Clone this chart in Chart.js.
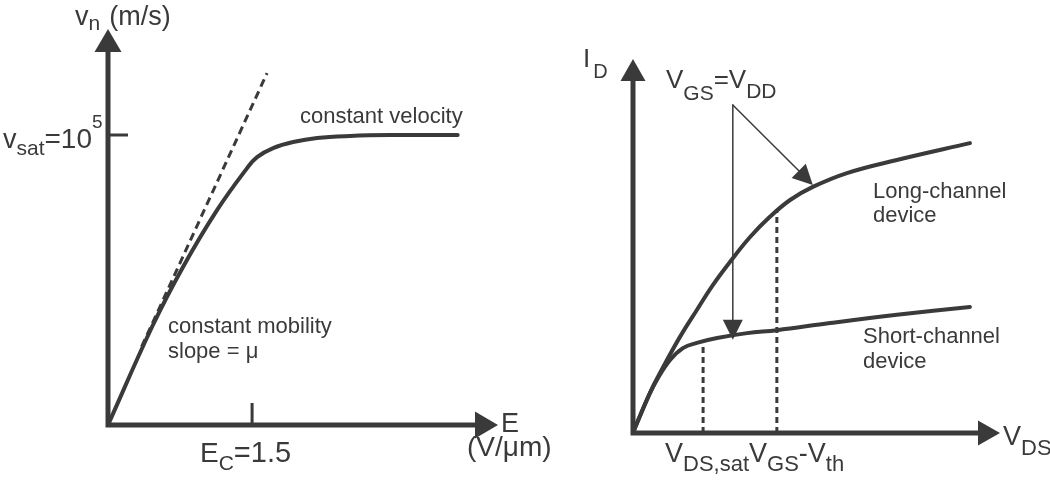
<!DOCTYPE html>
<html>
<head>
<meta charset="utf-8">
<script src="https://cdn.jsdelivr.net/npm/chart.js@4.4.0/dist/chart.umd.min.js"></script>
<style>
  body { margin: 0; background: #fff; }
  #wrap { position: relative; width: 1050px; height: 484px; }
  canvas { position: absolute; left: 0; top: 0; }
</style>
</head>
<body>
<div id="wrap">
  <canvas id="velChart" width="1050" height="484"></canvas>
  <canvas id="idChart" width="1050" height="484"></canvas>
</div>
<script>
// left panel: carrier velocity vs field (v in 1e5 m/s, E in V/um)
var eField   = [0, 0.458, 0.781, 1.135, 1.448, 1.552, 1.719, 1.927, 2.177, 2.52, 2.94, 3.64];
var velocity = [0, 0.338, 0.545, 0.741, 0.886, 0.924, 0.955, 0.976, 0.990, 0.997, 1.0, 1.0];
var mobilityE = [0.35, 1.656];
var mobilityV = [0.27, 1.214];
var eCrit = 1.5;
var vSat = 1;

// right panel: I_D vs V_DS (arbitrary units)
var vdsLong  = [0, 0.11, 0.46, 0.82, 1.28, 1.74, 2.18, 2.64, 3.19, 3.73, 4.28, 4.90, 5.83, 7.19, 9.18];
var idLong   = [0, 0.27, 1.07, 1.76, 2.57, 3.29, 3.96, 4.57, 5.24, 5.78, 6.23, 6.58, 6.95, 7.30, 7.75];
var vdsShort = [0, 0.11, 0.46, 0.65, 1.01, 1.36, 1.74, 2.29, 3.11, 3.92, 5.37, 7.19, 9.18];
var idShort  = [0, 0.27, 1.06, 1.42, 1.95, 2.27, 2.41, 2.54, 2.67, 2.75, 2.94, 3.16, 3.37];
var vdsSat = 1.91, idAtSat = 2.30;
var vgsMinusVth = 3.92, idAtVgs = 5.96;
var arrowFrom = [2.72, 8.77];
var arrowToShort = [2.72, 2.49];
var arrowToLong = [4.90, 6.63];

var INK = '#3a3a3a';
var FONT = '"Liberation Sans", Arial, sans-serif';

function pts(xs, ys) {
  return xs.map(function (x, i) { return {x: x, y: ys[i]}; });
}

// draws text pieces one after another: [text, size, baselineShift, gapBefore]
function rich(ctx, x, y, parts) {
  parts.forEach(function (p) {
    x += p[3] || 0;
    ctx.font = p[1] + 'px ' + FONT;
    ctx.fillText(p[0], x, y + (p[2] || 0));
    x += ctx.measureText(p[0]).width;
  });
}

function tri(ctx, a, b, c) {
  ctx.beginPath();
  ctx.moveTo(a[0], a[1]); ctx.lineTo(b[0], b[1]); ctx.lineTo(c[0], c[1]);
  ctx.closePath();
  ctx.fill();
}

function axes(ctx, area, head, halfW, lw) {
  ctx.save();
  ctx.strokeStyle = INK; ctx.fillStyle = INK;
  ctx.lineWidth = lw; ctx.lineCap = 'butt';
  ctx.beginPath();
  ctx.moveTo(area.left, area.top + head);
  ctx.lineTo(area.left, area.bottom + lw / 2);
  ctx.moveTo(area.left - lw / 2, area.bottom);
  ctx.lineTo(area.right - head, area.bottom);
  ctx.stroke();
  tri(ctx, [area.left, area.top], [area.left - halfW, area.top + head], [area.left + halfW, area.top + head]);
  tri(ctx, [area.right, area.bottom], [area.right - head, area.bottom - halfW], [area.right - head, area.bottom + halfW]);
  ctx.restore();
}

function lineOpts(extra) {
  var o = {
    showLine: true, pointRadius: 0, borderColor: INK, borderWidth: 4,
    tension: 0.4, fill: false, borderCapStyle: 'round'
  };
  for (var k in extra) o[k] = extra[k];
  return o;
}

var baseOpts = function (pad, xmax, ymax) {
  return {
    responsive: false,
    animation: false,
    layout: {padding: pad},
    plugins: {legend: {display: false}, tooltip: {enabled: false}},
    scales: {
      x: {type: 'linear', display: false, min: 0, max: xmax},
      y: {type: 'linear', display: false, min: 0, max: ymax}
    }
  };
};

var velPlugin = {
  id: 'velDecor',
  beforeDatasetsDraw: function (chart) {
    var ctx = chart.ctx, a = chart.chartArea;
    var xs = chart.scales.x, ys = chart.scales.y;
    axes(ctx, a, 23, 13.5, 5);
    ctx.save();
    ctx.strokeStyle = INK; ctx.lineWidth = 3;
    ctx.beginPath();
    var ex = xs.getPixelForValue(eCrit);
    ctx.moveTo(ex, a.bottom); ctx.lineTo(ex, a.bottom - 22);
    var vy = ys.getPixelForValue(vSat);
    ctx.moveTo(a.left, vy); ctx.lineTo(a.left + 20, vy);
    ctx.stroke();
    ctx.restore();
  },
  afterDatasetsDraw: function (chart) {
    var ctx = chart.ctx;
    ctx.save();
    ctx.fillStyle = INK; ctx.textBaseline = 'alphabetic';
    rich(ctx, 75, 25, [['v', 27], ['n', 21, 5], ['(m/s)', 27, 0, 9]]);
    rich(ctx, 3, 148, [['v', 27], ['sat', 21, 7], ['=10', 28], ['5', 19, -20]]);
    rich(ctx, 200, 462, [['E', 28], ['C', 21, 8], ['=1.5', 29]]);
    rich(ctx, 501, 432, [['E', 27]]);
    rich(ctx, 467, 456, [['(V/\u03bcm)', 28]]);
    rich(ctx, 300, 123, [['constant velocity', 22]]);
    rich(ctx, 168, 333, [['constant mobility', 22]]);
    rich(ctx, 168, 358, [['slope = \u03bc', 22]]);
    ctx.restore();
  }
};

new Chart('velChart', {
  type: 'scatter',
  data: {
    datasets: [
      lineOpts({data: pts(eField, velocity)}),
      lineOpts({data: pts(mobilityE, mobilityV), borderWidth: 3, borderDash: [8, 5], tension: 0, borderCapStyle: 'butt'})
    ]
  },
  options: baseOpts({left: 108, right: 552, top: 29, bottom: 59}, 4.06, 1.366),
  plugins: [velPlugin]
});

var idPlugin = {
  id: 'idDecor',
  beforeDatasetsDraw: function (chart) {
    axes(chart.ctx, chart.chartArea, 22, 12.5, 5);
  },
  afterDatasetsDraw: function (chart) {
    var ctx = chart.ctx;
    var xs = chart.scales.x, ys = chart.scales.y;
    function P(p) { return [xs.getPixelForValue(p[0]), ys.getPixelForValue(p[1])]; }
    ctx.save();
    ctx.fillStyle = INK; ctx.strokeStyle = INK;
    // arrow heads for V_GS = V_DD pointers
    var o = P(arrowFrom);
    [arrowToShort, arrowToLong].forEach(function (t) {
      var tp = P(t);
      var ang = Math.atan2(tp[1] - o[1], tp[0] - o[0]);
      var L = 20, W = 10;
      var bx = tp[0] - L * Math.cos(ang), by = tp[1] - L * Math.sin(ang);
      tri(ctx, tp, [bx - W * Math.sin(ang), by + W * Math.cos(ang)], [bx + W * Math.sin(ang), by - W * Math.cos(ang)]);
    });
    ctx.textBaseline = 'alphabetic';
    rich(ctx, 583, 67, [['I', 26], ['D', 20, 11, 3]]);
    rich(ctx, 666, 88, [['V', 26], ['GS', 21, 12], ['=V', 26], ['DD', 21, 10]]);
    rich(ctx, 873, 198, [['Long-channel', 22]]);
    rich(ctx, 873, 222, [['device', 22]]);
    rich(ctx, 863, 343, [['Short-channel', 22]]);
    rich(ctx, 863, 368, [['device', 22]]);
    rich(ctx, 665, 462, [['V', 27], ['DS,sat', 22, 9], ['V', 27], ['GS', 22, 9], ['-V', 27], ['th', 22, 9]]);
    rich(ctx, 1003, 445, [['V', 27], ['DS', 22, 10]]);
    ctx.restore();
  }
};

new Chart('idChart', {
  type: 'scatter',
  data: {
    datasets: [
      lineOpts({data: pts(vdsLong, idLong)}),
      lineOpts({data: pts(vdsShort, idShort)}),
      lineOpts({data: pts([vdsSat, vdsSat], [0, idAtSat]), borderWidth: 3, borderDash: [6, 4], tension: 0, borderCapStyle: 'butt'}),
      lineOpts({data: pts([vgsMinusVth, vgsMinusVth], [0, idAtVgs]), borderWidth: 3, borderDash: [6, 4], tension: 0, borderCapStyle: 'butt'}),
      lineOpts({data: pts([arrowFrom[0], arrowToShort[0]], [arrowFrom[1], arrowToShort[1] + 0.4]), borderWidth: 1.5, tension: 0}),
      lineOpts({data: pts([arrowFrom[0], arrowToLong[0] - 0.3], [arrowFrom[1], arrowToLong[1] + 0.3]), borderWidth: 1.5, tension: 0})
    ]
  },
  options: baseOpts({left: 633, right: 50, top: 59, bottom: 51}, 10, 10),
  plugins: [idPlugin]
});
</script>
</body>
</html>
